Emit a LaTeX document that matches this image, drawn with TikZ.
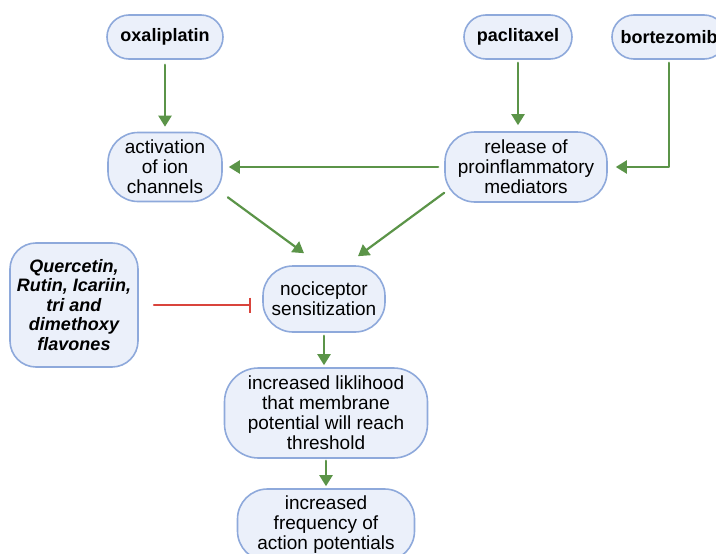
\documentclass[tikz,border=0pt]{standalone}
\usepackage{fontspec}
\setmainfont{Liberation Sans}
\definecolor{boxline}{HTML}{8EA9DB}
\definecolor{boxfill}{HTML}{EBF0FA}
\definecolor{leaf}{HTML}{5B9448}
\definecolor{brick}{HTML}{D9443C}
\usetikzlibrary{arrows.meta}
\tikzset{
  pill/.style={draw=boxline,fill=boxfill,line width=1.6pt,rounded corners=#1,align=center,
    inner sep=0pt,font=\fontsize{19}{20}\selectfont},
  pill/.default=30pt,
  drug/.style={pill=22pt,font=\fontsize{18}{20}\selectfont\bfseries},
  push/.style={draw=leaf,line width=2.2pt,-{Triangle[width=13pt,length=11pt]}},
  block/.style={draw=brick,line width=1.8pt,-{Bar[width=15pt,line width=1.8pt]}}
}

\begin{document}
\begin{tikzpicture}[x=1pt,y=-1pt,line cap=round,line join=round]
  \useasboundingbox (0,0) rectangle (716,554);
  \clip (0,0) rectangle (716,554);
  % drugs
  \node[drug,minimum width=116,minimum height=44] (oxa) at (165,37) {oxaliplatin};
  \node[drug,minimum width=108,minimum height=44] (pac) at (518,37) {paclitaxel};
  \node[drug,minimum width=114,minimum height=44] (bor) at (669,37) {bortezomib};
  % mechanism
  \node[pill,minimum width=114,minimum height=69] (act) at (165,167) {activation\\of ion\\channels};
  \node[pill,minimum width=162,minimum height=70] (rel) at (526,167) {release of\\proinflammatory\\mediators};
  \node[pill,minimum width=122,minimum height=66] (noc) at (324,299) {nociceptor\\sensitization};
  \node[pill=26pt,minimum width=128,minimum height=124,font=\fontsize{18}{19.5}\selectfont\bfseries\itshape]
    (que) at (74,305) {Quercetin,\\Rutin, Icariin,\\tri and\\dimethoxy\\flavones};
  \node[pill=34pt,minimum width=203,minimum height=90] (lik) at (326,413)
    {increased liklihood\\that membrane\\potential will reach\\threshold};
  \node[pill,minimum width=177,minimum height=72] (fre) at (326,525)
    {increased\\frequency of\\action potentials};
  % arrows
  \draw[push,shorten <=5pt,shorten >=5pt] (oxa) -- (act);
  \draw[push,shorten <=3pt,shorten >=6pt] (pac) -- (pac |- rel.north);
  \draw[push,shorten <=3pt,shorten >=8pt] (bor.south) |- (rel.east);
  \draw[push,shorten <=6pt,shorten >=6pt] (rel) -- (act);
  \draw[push] ([shift={(5,-5)}]act.south east) -- ([shift={(-20,-12)}]noc.north);
  \draw[push] ([shift={(0,-10)}]rel.south west) -- ([shift={(34,-9)}]noc.north);
  \draw[push,shorten <=3pt,shorten >=2pt] (noc) -- (noc |- lik.north);
  \draw[push,shorten <=2pt,shorten >=2pt] (lik) -- (fre);
  \draw[block,shorten <=15pt,shorten >=11pt] (que.east) -- (que.east -| noc.west);
\end{tikzpicture}
\end{document}
